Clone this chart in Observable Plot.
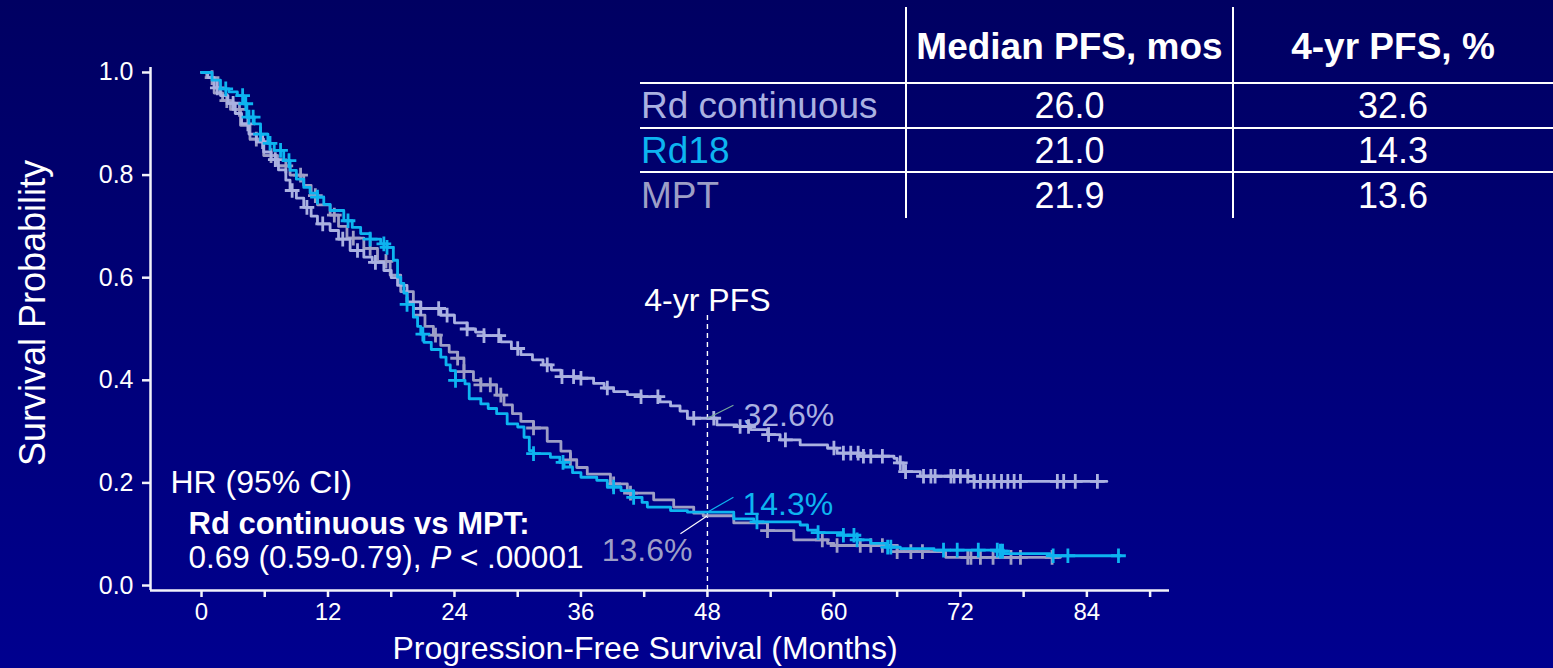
<!DOCTYPE html>
<html>
<head>
<meta charset="utf-8">
<script src="https://cdn.jsdelivr.net/npm/d3@7"></script>
<script src="https://cdn.jsdelivr.net/npm/@observablehq/plot@0.6"></script>
<style>
  html, body { margin: 0; padding: 0; }
  body {
    width: 1553px; height: 668px; overflow: hidden; position: relative;
    background: linear-gradient(to bottom, #000062 0%, #000078 50%, #00008f 100%);
    font-family: "Liberation Sans", Arial, sans-serif;
  }
  #chart, #table { position: absolute; left: 0; top: 0; }
</style>
</head>
<body>
<div id="chart"></div>
<div id="table"></div>
<script>
// ---- Kaplan–Meier step data: time (months) at which each step starts, survival after it ----
const rdContTime = [0, 0.6, 1.2, 1.8, 2.5, 3.2, 3.8, 4.5, 5.2, 5.9, 6.6, 7.3, 8.0, 8.4, 9.0, 9.7, 10.4, 11.0, 12.2, 13.0,
  14.1, 15.4, 16.2, 17.3, 18.0, 18.6, 19.5, 20.8, 22.7, 24.0, 25.2, 26.0, 26.8, 28.4, 29.4, 30.3, 31.4, 32.4, 33.2, 34.1,
  36.0, 37.2, 38.2, 39.1, 40.4, 41.7, 43.5, 44.5, 45.4, 46.1, 48.9, 50.8, 52.1, 53.7, 54.9, 56.8, 59.4, 60.3, 62.5, 65.7,
  66.0, 66.6, 68.2, 73.3, 85.9];
const rdContSurv = [1.0, 0.99, 0.97, 0.955, 0.94, 0.92, 0.90, 0.88, 0.865, 0.845, 0.83, 0.81, 0.79, 0.77, 0.755, 0.737, 0.72, 0.705, 0.692, 0.675,
  0.653, 0.64, 0.63, 0.614, 0.60, 0.585, 0.553, 0.54, 0.527, 0.512, 0.50, 0.494, 0.487, 0.475, 0.462, 0.45, 0.44, 0.43, 0.42, 0.407,
  0.404, 0.394, 0.385, 0.378, 0.372, 0.368, 0.358, 0.35, 0.34, 0.326, 0.313, 0.31, 0.304, 0.294, 0.284, 0.274, 0.268, 0.258, 0.252, 0.248,
  0.239, 0.222, 0.213, 0.203, 0.203];

const rd18Time = [0, 1.0, 1.8, 2.6, 3.4, 4.0, 4.3, 5.0, 5.6, 6.3, 6.9, 7.8, 8.4, 9.0, 9.7, 10.3, 11.0, 11.6, 12.2, 13.5,
  14.3, 15.1, 16.0, 17.0, 17.6, 18.2, 18.6, 18.9, 19.2, 19.5, 20.1, 20.5, 20.8, 21.1, 21.8, 22.7, 23.2, 23.6, 24.1, 25.0,
  25.4, 26.5, 27.2, 28.0, 29.0, 30.0, 30.6, 31.1, 31.5, 33.1, 34.0, 34.4, 35.2, 36.0, 37.5, 38.5, 39.8, 41.0, 41.8, 42.3,
  44.5, 46.1, 50.5, 52.4, 56.8, 57.5, 58.4, 60.9, 62.2, 63.5, 65.0, 66.3, 69.5, 75.8, 76.1, 80.5, 87.2];
const rd18Surv = [1.0, 0.985, 0.968, 0.962, 0.955, 0.939, 0.913, 0.90, 0.88, 0.862, 0.848, 0.828, 0.809, 0.792, 0.776, 0.765, 0.757, 0.743, 0.731, 0.711,
  0.698, 0.686, 0.675, 0.666, 0.659, 0.634, 0.601, 0.589, 0.57, 0.548, 0.523, 0.505, 0.49, 0.474, 0.46, 0.445, 0.43, 0.419, 0.40, 0.393,
  0.364, 0.354, 0.345, 0.335, 0.315, 0.309, 0.289, 0.263, 0.257, 0.25, 0.24, 0.231, 0.22, 0.211, 0.205, 0.192, 0.185, 0.172, 0.162, 0.153,
  0.146, 0.143, 0.13, 0.124, 0.118, 0.108, 0.103, 0.098, 0.089, 0.082, 0.075, 0.072, 0.069, 0.067, 0.062, 0.058, 0.058];

const mptTime = [0, 0.5, 1.2, 2.0, 2.75, 3.7, 4.6, 5.9, 7.2, 8.4, 9.7, 10.4, 11.0, 12.2, 13.0, 13.8, 15.4, 16.7, 17.9, 18.9,
  20.1, 21.2, 22.0, 22.7, 23.5, 24.3, 24.9, 25.8, 26.5, 28.0, 28.7, 29.5, 30.3, 31.5, 32.8, 34.1, 35.0, 35.6, 36.6, 38.8,
  40.4, 42.9, 44.8, 46.7, 47.6, 50.5, 53.7, 56.2, 59.4, 60.0, 66.0, 70.6, 81.5];
const mptSurv = [1.0, 0.99, 0.96, 0.945, 0.928, 0.897, 0.87, 0.838, 0.818, 0.80, 0.78, 0.76, 0.742, 0.722, 0.70, 0.677, 0.657, 0.632, 0.605, 0.573,
  0.527, 0.505, 0.488, 0.468, 0.455, 0.443, 0.417, 0.40, 0.391, 0.371, 0.352, 0.335, 0.32, 0.307, 0.281, 0.262, 0.245, 0.23, 0.217, 0.198,
  0.18, 0.167, 0.153, 0.141, 0.136, 0.122, 0.107, 0.089, 0.082, 0.078, 0.066, 0.055, 0.055];

// ---- censoring times (months) ----
const rdContCensored = [1.5, 3.0, 4.4, 5.8, 7.0, 8.6, 10.0, 11.5, 13.4, 14.8, 16.5, 20.8, 22.5, 23.3, 25.2, 26.8, 28.2, 30.0,
  32.8, 34.2, 35.3, 36.0, 38.5, 41.7, 43.3, 46.7, 48.6, 51.1, 51.9, 53.8, 55.4, 60.0, 60.9, 61.6, 62.3, 62.8, 63.5, 64.6,
  66.3, 66.8, 68.5, 69.2, 69.6, 71.1, 71.4, 72.0, 72.7, 73.3, 73.9, 74.6, 75.2, 75.9, 76.5, 77.1, 77.7, 81.2, 81.8, 82.9, 85.0];
const rd18Censored = [2.3, 3.9, 4.2, 4.5, 4.9, 5.6, 6.5, 7.5, 8.3, 11.0, 13.9, 16.0, 17.3, 17.6, 19.5, 21.0, 24.1, 31.5,
  34.3, 39.1, 41.0, 52.7, 58.5, 60.9, 61.9, 62.2, 65.1, 65.4, 70.4, 71.7, 73.7, 75.5, 75.8, 76.0, 80.8, 82.2, 87.0];
const mptCensored = [1.0, 2.4, 3.6, 5.2, 6.6, 8.0, 9.4, 10.8, 12.6, 14.4, 16.0, 17.5, 22.2, 24.3, 24.9, 26.5, 27.4, 28.4,
  31.5, 35.0, 39.1, 40.7, 53.7, 58.9, 60.3, 62.5, 63.5, 64.6, 66.0, 67.3, 68.4, 72.7, 73.0, 73.9, 75.1, 76.8, 77.7, 80.7];

// ---- series, summary table and axis ticks ----
const seriesNames = ["Rd continuous", "Rd18", "MPT"];
const seriesColors = ["#aab1e1", "#0db4f0", "#9d9ec6"];
const medianPFS = ["26.0", "21.0", "21.9"];
const fourYearPFS = [32.6, 14.3, 13.6];
const tableHeaders = ["Median PFS, mos", "4-yr PFS, %"];
const landmarkMonth = 48;
const yTicks = [0, 0.2, 0.4, 0.6, 0.8, 1.0];
const xTicks = [0, 6, 12, 18, 24, 30, 36, 42, 48, 54, 60, 66, 72, 78, 84, 90];
const xTickLabels = [0, 12, 24, 36, 48, 60, 72, 84];
const hrTitle = "HR (95% CI)";
const hrComparison = "Rd continuous vs MPT:";
const hrValue = "0.69 (0.59-0.79), P < .00001";

// ---- layout ----
const W = 1553, H = 668;
const frame = {left: 150, right: 1169, top: 67, bottom: 590};
const xDomain = [-4.84, 91.84];
const yDomain = [-0.0097, 1.0097];
const pxX = (xDomain[1] - xDomain[0]) / (frame.right - frame.left);
const pxY = (yDomain[1] - yDomain[0]) / (frame.bottom - frame.top);
const axisColor = "#f2f2fa";
const font = "'Liberation Sans', Arial, sans-serif";

const curves = [
  {times: rdContTime, surv: rdContSurv, cens: rdContCensored},
  {times: rd18Time, surv: rd18Surv, cens: rd18Censored},
  {times: mptTime, surv: mptSurv, cens: mptCensored}
].map((c, k) => {
  const steps = c.times.map((t, i) => ({t, s: c.surv[i]}));
  const at = (t) => steps[Math.max(0, d3.bisector(d => d.t).right(steps, t) - 1)].s;
  return {name: seriesNames[k], color: seriesColors[k], steps, censored: c.cens.map(t => ({t, s: at(t)}))};
});

// draw order: MPT, Rd continuous, Rd18 on top
const drawOrder = [2, 0, 1];

const landmark = fourYearPFS.map((p, k) => ({name: seriesNames[k], color: seriesColors[k], v: p / 100, label: `${p}%`}));
// leader offsets (pixels) from the landmark point to the label
const leaderPx = [[26, -13], [26, -15], [-27, 18]];
const leaders = landmark.map((d, k) => ({
  x1: landmarkMonth, y1: d.v,
  x2: landmarkMonth + leaderPx[k][0] * pxX, y2: d.v - leaderPx[k][1] * pxY,
  color: ["#78aa9c", "#0db4f0", "#ffffff"][k]
}));
const guideTop = 0.53;

const marks = [
  // axis lines
  Plot.ruleY([yDomain[0]], {stroke: axisColor, strokeWidth: 2.5}),
  Plot.ruleX([xDomain[0]], {stroke: axisColor, strokeWidth: 2.5}),
  Plot.axisY(yTicks, {tickSize: 8, tickPadding: 9, tickFormat: d3.format(".1f"), fontSize: 25,
    stroke: axisColor, strokeWidth: 2.5, label: null}),
  Plot.axisX(xTicks, {tickSize: 7, tickPadding: 5, fontSize: 24, stroke: axisColor, strokeWidth: 2.5, label: null,
    tickFormat: d => xTickLabels.includes(d) ? String(d) : ""}),
  // axis titles
  Plot.text(["Survival Probability"], {frameAnchor: "left", textAnchor: "middle", dx: -117, dy: -16, rotate: -90,
    fontSize: 36, fill: "white"}),
  Plot.text(["Progression-Free Survival (Months)"], {frameAnchor: "bottom", textAnchor: "middle", dx: -15, dy: 68,
    fontSize: 32, fill: "white"}),
  // 4-year landmark guide
  Plot.ruleX([landmarkMonth], {y1: yDomain[0], y2: guideTop, stroke: "white", strokeWidth: 1.4, strokeDasharray: "5,4"}),
  Plot.text(["4-yr PFS"], {x: landmarkMonth, y: guideTop, dy: -3, lineAnchor: "bottom", fontSize: 32, fill: "white"}),
];

for (const k of drawOrder) {
  const c = curves[k];
  marks.push(Plot.line(c.steps, {x: "t", y: "s", curve: "step-after", stroke: c.color, strokeWidth: 2.8}));
  marks.push(Plot.dot(c.censored, {x: "t", y: "s", symbol: "plus", r: 4.8, stroke: c.color, strokeWidth: 2.8}));
}

marks.push(
  Plot.link(leaders, {x1: "x1", y1: "y1", x2: "x2", y2: "y2", stroke: "color", strokeWidth: 1.2}),
  Plot.text([landmark[0]], {x: landmarkMonth, y: "v", text: "label", fill: "color", dx: 36, dy: 8,
    lineAnchor: "bottom", textAnchor: "start", fontSize: 32}),
  Plot.text([landmark[1]], {x: landmarkMonth, y: "v", text: "label", fill: "color", dx: 35, dy: 3,
    lineAnchor: "bottom", textAnchor: "start", fontSize: 32}),
  Plot.text([landmark[2]], {x: landmarkMonth, y: "v", text: "label", fill: "color", dx: -15, dy: 45,
    lineAnchor: "bottom", textAnchor: "end", fontSize: 32}),
  // hazard ratio annotation
  Plot.text([hrTitle], {frameAnchor: "bottom-left", dx: 20, dy: -98, lineAnchor: "bottom", textAnchor: "start",
    fontSize: 32, fill: "white"}),
  Plot.text([hrComparison], {frameAnchor: "bottom-left", dx: 38, dy: -57, lineAnchor: "bottom", textAnchor: "start",
    fontSize: 31, fontWeight: "bold", fill: "white"}),
  Plot.text([hrValue], {frameAnchor: "bottom-left", dx: 38, dy: -23, lineAnchor: "bottom", textAnchor: "start",
    fontSize: 31.5, fill: "white"})
);

const chart = Plot.plot({
  width: W, height: H,
  marginLeft: frame.left, marginRight: W - frame.right,
  marginTop: frame.top, marginBottom: H - frame.bottom,
  style: {background: "transparent", color: "white", fontFamily: font, overflow: "visible"},
  x: {domain: xDomain, label: null},
  y: {domain: yDomain, label: null},
  marks
});

// italicise the P in the p-value line
for (const el of chart.querySelectorAll("text")) {
  if (el.textContent === hrValue) {
    const [before, after] = hrValue.split("P");
    el.textContent = "";
    const parts = [[before, "normal"], ["P", "italic"], [after, "normal"]];
    for (const [txt, style] of parts) {
      const ts = document.createElementNS("http://www.w3.org/2000/svg", "tspan");
      ts.setAttribute("font-style", style);
      ts.textContent = txt;
      el.appendChild(ts);
    }
  }
}
document.getElementById("chart").appendChild(chart);

// ---- summary table ----
const tbl = d3.select("#table").append("svg").attr("width", W).attr("height", H)
  .style("font-family", font).style("overflow", "visible");
const colX = [906, 1233];
const rowLineY = [83, 128, 172];
const rowBase = [118, 163, 208];
const colCenter = [1069.5, 1393];
tbl.selectAll("line.v").data(colX).join("line").attr("class", "v")
  .attr("x1", d => d).attr("x2", d => d).attr("y1", 7).attr("y2", 218)
  .attr("stroke", "white").attr("stroke-width", 2);
tbl.selectAll("line.h").data(rowLineY).join("line").attr("class", "h")
  .attr("x1", 640).attr("x2", W).attr("y1", d => d).attr("y2", d => d)
  .attr("stroke", "white").attr("stroke-width", 2);
tbl.selectAll("text.hd").data(tableHeaders).join("text").attr("class", "hd")
  .attr("x", (d, i) => colCenter[i]).attr("y", 59).attr("text-anchor", "middle")
  .attr("font-size", 37).attr("font-weight", "bold").attr("fill", "white").text(d => d);
tbl.selectAll("text.rn").data(seriesNames).join("text").attr("class", "rn")
  .attr("x", 641).attr("y", (d, i) => rowBase[i]).attr("font-size", 37)
  .attr("fill", (d, i) => seriesColors[i]).text(d => d);
tbl.selectAll("text.md").data(medianPFS).join("text").attr("class", "md")
  .attr("x", colCenter[0]).attr("y", (d, i) => rowBase[i]).attr("text-anchor", "middle")
  .attr("font-size", 36).attr("fill", "white").text(d => d);
tbl.selectAll("text.fy").data(fourYearPFS).join("text").attr("class", "fy")
  .attr("x", colCenter[1]).attr("y", (d, i) => rowBase[i]).attr("text-anchor", "middle")
  .attr("font-size", 36).attr("fill", "white").text(d => d.toFixed(1));
</script>
</body>
</html>
